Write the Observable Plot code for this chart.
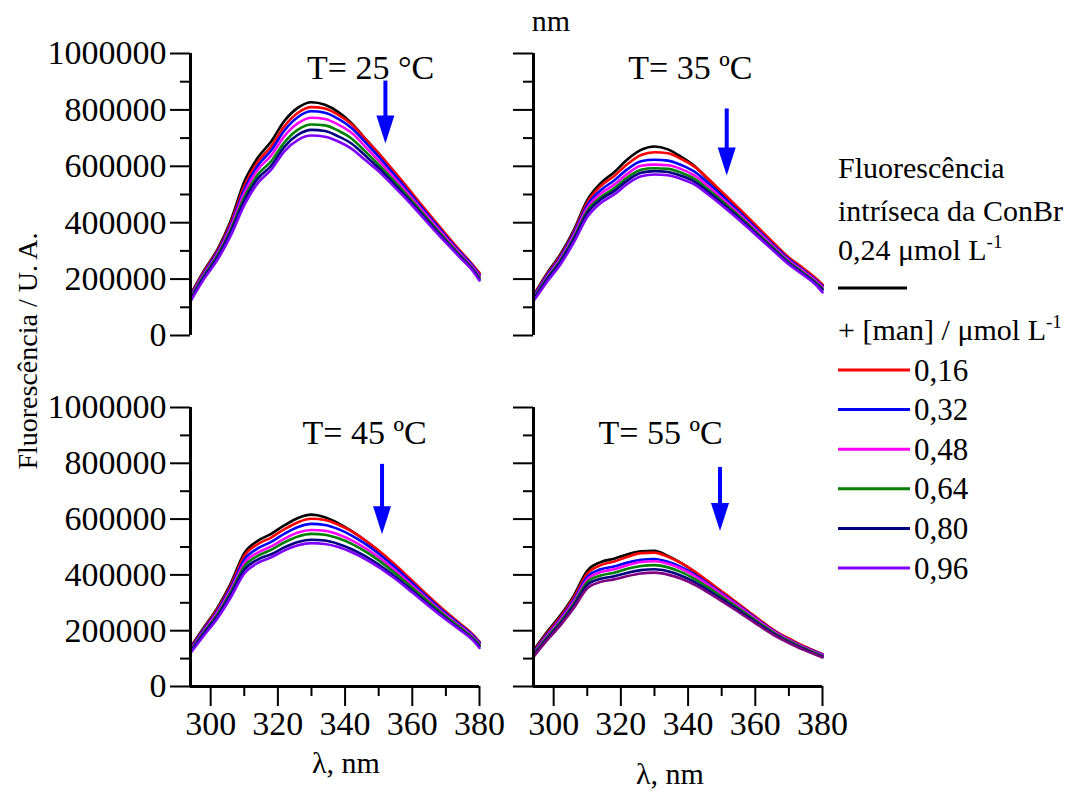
<!DOCTYPE html>
<html>
<head>
<meta charset="utf-8">
<script src="https://cdn.jsdelivr.net/npm/d3@7"></script>
<script src="https://cdn.jsdelivr.net/npm/@observablehq/plot@0.6"></script>
<style>
html, body { margin: 0; padding: 0; background: #ffffff; }
#fig { position: relative; width: 1067px; height: 791px; overflow: hidden; background: #ffffff;
       font-family: "Liberation Serif", "Times New Roman", serif; }
#fig svg { position: absolute; }
</style>
</head>
<body>
<div id="fig"></div>
<script>
// ---------------- DATA (fluorescence in thousands of U. A.) ----------------
const wavelengths = [294, 298, 302, 306, 310, 314, 318, 322, 326, 330, 334, 338, 342, 346, 350, 354, 358, 362, 366, 370, 374, 378, 380];
const seriesLabels = ["ConBr", "0,16", "0,32", "0,48", "0,64", "0,80", "0,96"];
const temperatures = ["25", "35", "45", "55"];
const panelTitles = ["T= 25 °C", "T= 35 ºC", "T= 45 ºC", "T= 55 ºC"];
const yMajorTicks = [0, 200000, 400000, 600000, 800000, 1000000];
const yMinorTicks = [100000, 300000, 500000, 700000, 900000];
const xMajorTicks = [300, 320, 340, 360, 380];
const xMinorTicks = [310, 330, 350, 370];

// T = 25 °C
const T25_ctrl = [145, 230, 305, 408, 545, 630, 688, 762, 808, 827, 818, 792, 752, 698, 645, 588, 530, 470, 412, 355, 300, 247, 218];
const T25_016  = [142, 226, 300, 400, 530, 615, 670, 743, 790, 810, 805, 782, 748, 697, 646, 590, 533, 474, 416, 359, 304, 251, 222];
const T25_032  = [139, 222, 295, 392, 518, 602, 656, 728, 775, 795, 790, 768, 735, 686, 634, 579, 523, 465, 408, 352, 298, 246, 214];
const T25_048  = [135, 217, 289, 385, 505, 588, 638, 708, 753, 772, 768, 748, 718, 670, 620, 567, 513, 457, 401, 346, 293, 241, 210];
const T25_064  = [131, 212, 283, 375, 490, 570, 618, 686, 730, 748, 745, 726, 698, 653, 606, 555, 503, 448, 393, 339, 287, 236, 205];
const T25_080  = [127, 207, 277, 368, 478, 556, 602, 670, 712, 729, 725, 706, 680, 638, 594, 545, 494, 441, 387, 334, 283, 233, 200];
const T25_096  = [121, 200, 268, 355, 462, 540, 588, 654, 694, 709, 705, 688, 662, 622, 582, 535, 486, 434, 381, 329, 279, 229, 195];
// T = 35 °C
const T35_ctrl = [142, 220, 288, 374, 480, 540, 579, 625, 658, 670, 660, 633, 600, 553, 506, 460, 413, 365, 318, 273, 238, 200, 178];
const T35_016  = [140, 216, 283, 368, 472, 530, 566, 608, 640, 650, 646, 626, 598, 556, 510, 464, 417, 369, 322, 277, 241, 203, 181];
const T35_032  = [137, 212, 278, 362, 462, 515, 550, 590, 618, 623, 620, 604, 580, 540, 497, 452, 406, 360, 314, 270, 234, 197, 175];
const T35_048  = [134, 207, 272, 355, 452, 503, 535, 574, 602, 606, 604, 590, 567, 529, 487, 444, 399, 354, 309, 265, 230, 193, 171];
const T35_064  = [131, 202, 266, 347, 442, 490, 522, 561, 588, 593, 591, 577, 555, 518, 478, 436, 392, 347, 303, 260, 225, 188, 166];
const T35_080  = [128, 198, 261, 341, 434, 482, 512, 550, 577, 583, 580, 566, 545, 509, 470, 429, 386, 342, 298, 256, 221, 184, 162];
const T35_096  = [122, 190, 252, 330, 420, 470, 500, 538, 565, 571, 568, 555, 535, 500, 462, 422, 380, 337, 294, 252, 217, 180, 153];
// T = 45 °C
const T45_ctrl = [141, 212, 282, 370, 478, 522, 547, 578, 604, 616, 607, 585, 557, 523, 485, 443, 398, 352, 307, 264, 225, 184, 158];
const T45_016  = [138, 208, 277, 363, 468, 510, 534, 564, 589, 601, 597, 580, 556, 524, 487, 446, 402, 356, 311, 268, 228, 187, 161];
const T45_032  = [135, 204, 271, 355, 455, 495, 518, 548, 572, 583, 579, 564, 541, 511, 476, 436, 393, 348, 304, 262, 223, 183, 157];
const T45_048  = [132, 199, 265, 347, 442, 480, 502, 530, 552, 561, 558, 545, 524, 496, 463, 425, 383, 340, 297, 256, 218, 178, 153];
const T45_064  = [128, 194, 258, 338, 430, 468, 490, 517, 538, 547, 544, 531, 511, 484, 452, 415, 375, 333, 291, 251, 213, 174, 149];
const T45_080  = [125, 190, 252, 330, 418, 455, 474, 499, 518, 526, 523, 511, 492, 467, 437, 402, 364, 323, 283, 244, 207, 169, 145];
const T45_096  = [120, 183, 244, 320, 405, 443, 463, 488, 506, 514, 511, 500, 481, 457, 428, 394, 357, 317, 278, 240, 204, 166, 138];
// T = 55 °C
const T55_ctrl = [129, 195, 255, 326, 415, 446, 458, 474, 485, 486, 468, 442, 410, 374, 338, 302, 266, 230, 196, 170, 145, 125, 115];
const T55_016  = [126, 190, 249, 319, 405, 435, 448, 465, 478, 480, 465, 442, 412, 377, 341, 305, 269, 233, 199, 172, 147, 126, 116];
const T55_032  = [122, 185, 243, 311, 393, 420, 430, 444, 454, 457, 447, 428, 401, 368, 334, 299, 264, 228, 195, 168, 144, 124, 114];
const T55_048  = [119, 181, 238, 305, 384, 410, 420, 435, 446, 449, 440, 422, 396, 364, 330, 296, 261, 226, 193, 166, 142, 122, 112];
const T55_064  = [115, 176, 232, 297, 374, 398, 408, 422, 432, 435, 427, 410, 385, 355, 322, 289, 255, 221, 189, 163, 139, 119, 109];
const T55_080  = [111, 171, 226, 290, 364, 386, 395, 408, 417, 420, 413, 397, 374, 345, 314, 282, 249, 216, 185, 159, 136, 116, 107];
const T55_096  = [106, 165, 219, 281, 352, 375, 384, 396, 405, 408, 401, 386, 364, 336, 306, 275, 243, 211, 181, 156, 133, 114, 104];

const panelSeries = [
  [T25_ctrl, T25_016, T25_032, T25_048, T25_064, T25_080, T25_096],
  [T35_ctrl, T35_016, T35_032, T35_048, T35_064, T35_080, T35_096],
  [T45_ctrl, T45_016, T45_032, T45_048, T45_064, T45_080, T45_096],
  [T55_ctrl, T55_016, T55_032, T55_048, T55_064, T55_080, T55_096]
];

// ---------------- STYLE / LAYOUT ----------------
const FONT = "Liberation Serif, Times New Roman, serif";
const lineColors = ["#000000", "#ff0000", "#0000ff", "#ff00ff", "#008000", "#000080", "#8000ff"];
const lineColors55 = ["#000000", "#ff0000", "#0000ff", "#ff00ff", "#008000", "#000080", "#800080"];
const xDomain = [294, 380];
const yDomain = [0, 1000000];

// annotation placement (data units)
const annotations = [
  {tx: 347.6, ty: 947000, ax: 352.0, atop: 904000, atip: 681000},
  {tx: 340.7, ty: 947000, ax: 351.5, atop: 805000, atip: 567000},
  {tx: 345.8, ty: 910000, ax: 351.0, atop: 798000, atip: 546000},
  {tx: 331.8, ty: 910000, ax: 349.5, atop: 787000, atip: 557000}
];

const arrowHead = {
  draw(ctx) {
    ctx.moveTo(-9, -28);
    ctx.lineTo(9, -28);
    ctx.lineTo(0, 0);
    ctx.closePath();
  }
};

const fig = document.getElementById("fig");

function makePanel(i) {
  const col = i % 2, row = Math.floor(i / 2);
  const geo = {
    left: col === 0 ? 0 : 506,
    top: row === 0 ? 0 : 371,
    width: col === 0 ? 506 : 561,
    height: row === 0 ? 371 : 420,
    marginLeft: col === 0 ? 190 : 27,
    marginRight: col === 0 ? 27 : 245,
    marginTop: row === 0 ? 53 : 36,
    marginBottom: row === 0 ? 36 : 105
  };
  const data = [];
  panelSeries[i].forEach((arr, s) => {
    arr.forEach((v, k) => data.push({wl: wavelengths[k], f: v * 1000, series: seriesLabels[s]}));
  });
  const a = annotations[i];
  const marks = [
    Plot.line(data, {x: "wl", y: "f", z: "series", stroke: "series", strokeWidth: 2.6,
                     curve: "monotone-x", strokeLinejoin: "round"}),
    Plot.ruleX([xDomain[0]], {stroke: "#000", strokeWidth: 3}),
    Plot.axisY({ticks: yMajorTicks, tickSize: 20, tickPadding: 4, strokeWidth: 2, fontSize: 34,
                tickFormat: col === 0 ? d3.format("d") : () => "", label: null}),
    Plot.axisY({ticks: yMinorTicks, tickSize: 10, strokeWidth: 2, tickFormat: () => "", label: null}),
    Plot.text([panelTitles[i]], {x: () => a.tx, y: () => a.ty, text: d => d, fontSize: 34,
                                 textAnchor: "middle", lineAnchor: "middle", fill: "#000"}),
    Plot.link([a], {x1: "ax", x2: "ax", y1: "atop", y2: d => d.atip + (d.atop - d.atip) * 0.3,
                    stroke: "#0000ff", strokeWidth: 4}),
    Plot.dot([a], {x: "ax", y: "atip", symbol: arrowHead, fill: "#0000ff", stroke: "none", r: 5})
  ];
  if (row === 1) {
    marks.push(
      Plot.ruleY([yDomain[0]], {stroke: "#000", strokeWidth: 3}),
      Plot.axisX({ticks: xMajorTicks, tickSize: 20, tickPadding: 4, strokeWidth: 2, fontSize: 34,
                  tickFormat: d3.format("d"), label: null}),
      Plot.axisX({ticks: xMinorTicks, tickSize: 10, strokeWidth: 2, tickFormat: () => "", label: null})
    );
  }
  const svg = Plot.plot({
    width: geo.width, height: geo.height,
    marginLeft: geo.marginLeft, marginRight: geo.marginRight,
    marginTop: geo.marginTop, marginBottom: geo.marginBottom,
    x: {domain: xDomain, axis: null},
    y: {domain: yDomain, axis: null},
    color: {domain: seriesLabels, range: i === 3 ? lineColors55 : lineColors},
    style: {fontFamily: FONT, fontSize: "34px", background: "transparent", overflow: "visible", color: "#000"},
    marks
  });
  svg.style.position = "absolute";
  svg.style.left = geo.left + "px";
  svg.style.top = geo.top + "px";
  svg.style.maxWidth = "none";
  fig.appendChild(svg);
}
temperatures.forEach((t, i) => makePanel(i));

// ---------------- TEXT OVERLAY & LEGEND ----------------
const ov = d3.select(fig).append("svg")
  .attr("width", 1067).attr("height", 791)
  .style("left", "0px").style("top", "0px")
  .attr("font-family", FONT).style("pointer-events", "none");

ov.append("text").attr("x", 551).attr("y", 31).attr("text-anchor", "middle")
  .attr("font-size", 30).text("nm");

ov.append("text").attr("transform", "translate(27,351) rotate(-90)")
  .attr("text-anchor", "middle").attr("dominant-baseline", "central")
  .attr("font-size", 28).text("Fluorescência / U. A.");

ov.append("text").attr("x", 346).attr("y", 773).attr("text-anchor", "middle")
  .attr("font-size", 30).text("λ, nm");
ov.append("text").attr("x", 670).attr("y", 784).attr("text-anchor", "middle")
  .attr("font-size", 30).text("λ, nm");

const LX = 838;
ov.append("text").attr("x", LX).attr("y", 178).attr("font-size", 30).text("Fluorescência");
ov.append("text").attr("x", LX).attr("y", 221).attr("font-size", 30).text("intríseca da ConBr");
const t3 = ov.append("text").attr("x", LX).attr("y", 260).attr("font-size", 30);
t3.append("tspan").text("0,24 μmol L");
t3.append("tspan").attr("font-size", 19).attr("dy", -12).text("-1");
ov.append("line").attr("x1", LX).attr("x2", 907).attr("y1", 288).attr("y2", 288)
  .attr("stroke", lineColors[0]).attr("stroke-width", 3);
const t4 = ov.append("text").attr("x", LX).attr("y", 340).attr("font-size", 30);
t4.append("tspan").text("+ [man] / μmol L");
t4.append("tspan").attr("font-size", 19).attr("dy", -12).text("-1");

seriesLabels.slice(1).forEach((lab, k) => {
  const y = 370 + k * 39.6;
  ov.append("line").attr("x1", LX).attr("x2", 910).attr("y1", y).attr("y2", y)
    .attr("stroke", lineColors[k + 1]).attr("stroke-width", 3);
  ov.append("text").attr("x", 914).attr("y", y).attr("dominant-baseline", "central")
    .attr("font-size", 31).text(lab);
});
</script>
</body>
</html>
